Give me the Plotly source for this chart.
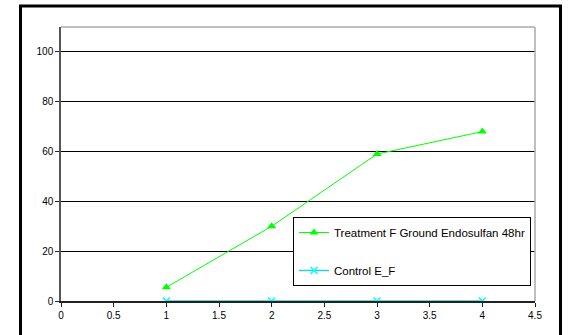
import plotly.graph_objects as go

# Exposure time points (x) and response values for each series
days = [1, 2, 3, 4]
treatment_vals = [5.5, 30, 59, 68]
control_vals = [0, 0, 0, 0]

treatment_name = "Treatment F Ground Endosulfan 48hr"
control_name = "Control E_F"

x_ticks = [0, 0.5, 1, 1.5, 2, 2.5, 3, 3.5, 4, 4.5]
x_tick_text = ["0", "0.5", "1", "1.5", "2", "2.5", "3", "3.5", "4", "4.5"]
y_ticks = [0, 20, 40, 60, 80, 100]

W, H = 568, 335
L, R, T, B = 61, 33, 27, 34
pw, ph = W - L - R, H - T - B

def px_to_paper_x(px):
    return (px - L) / pw

def px_to_paper_y(py):
    return (H - B - py) / ph

fig = go.Figure()

fig.add_trace(go.Scatter(
    x=days, y=treatment_vals, name=treatment_name, mode="lines+markers",
    line=dict(color="#00FF00", width=1),
    marker=dict(symbol="triangle-up", size=8, color="#00FF00"),
    legendgroup="a",
))
fig.add_trace(go.Scatter(
    x=days, y=control_vals, name=control_name, mode="lines+markers",
    line=dict(color="#33CCCC", width=1.5),
    marker=dict(symbol="x-thin", size=7, color="#00FFFF",
                line=dict(color="#00FFFF", width=1.5)),
    legendgroup="b",
))

fig.update_layout(
    width=W, height=H,
    margin=dict(l=L, r=R, t=T, b=B),
    paper_bgcolor="white", plot_bgcolor="white",
    font=dict(family="Arial, Liberation Sans, sans-serif", size=10, color="black"),
    showlegend=True,
    legend=dict(
        x=px_to_paper_x(293), y=px_to_paper_y(217),
        xanchor="left", yanchor="top",
        bgcolor="white", bordercolor="black", borderwidth=1,
        font=dict(size=11.5), traceorder="grouped", tracegroupgap=19,
        itemwidth=30,
    ),
    xaxis=dict(
        range=[0, 4.5], tickvals=x_ticks, ticktext=x_tick_text,
        showgrid=False, zeroline=False,
        showline=True, linecolor="#222222", linewidth=1.5,
        ticks="outside", ticklen=4, tickcolor="#222222", tickwidth=1,
    ),
    yaxis=dict(
        range=[0, 110], tickvals=y_ticks,
        showgrid=True, gridcolor="black", gridwidth=1,
        zeroline=False,
        showline=True, linecolor="#555555", linewidth=1.5,
        ticks="outside", ticklen=4, tickcolor="#222222", tickwidth=1,
    ),
    shapes=[
        # plot area top and right edges
        dict(type="line", xref="paper", yref="paper", x0=0, x1=1, y0=1, y1=1,
             line=dict(color="#AAAAAA", width=1.5)),
        dict(type="line", xref="paper", yref="paper", x0=1, x1=1, y0=0, y1=1,
             line=dict(color="#AAAAAA", width=1.5)),
        # outer chart frame
        dict(type="rect", xref="paper", yref="paper",
             x0=px_to_paper_x(20.5), x1=px_to_paper_x(560.5),
             y0=px_to_paper_y(345), y1=px_to_paper_y(6),
             line=dict(color="black", width=3), layer="above"),
    ],
)

fig.write_html("out.html")
